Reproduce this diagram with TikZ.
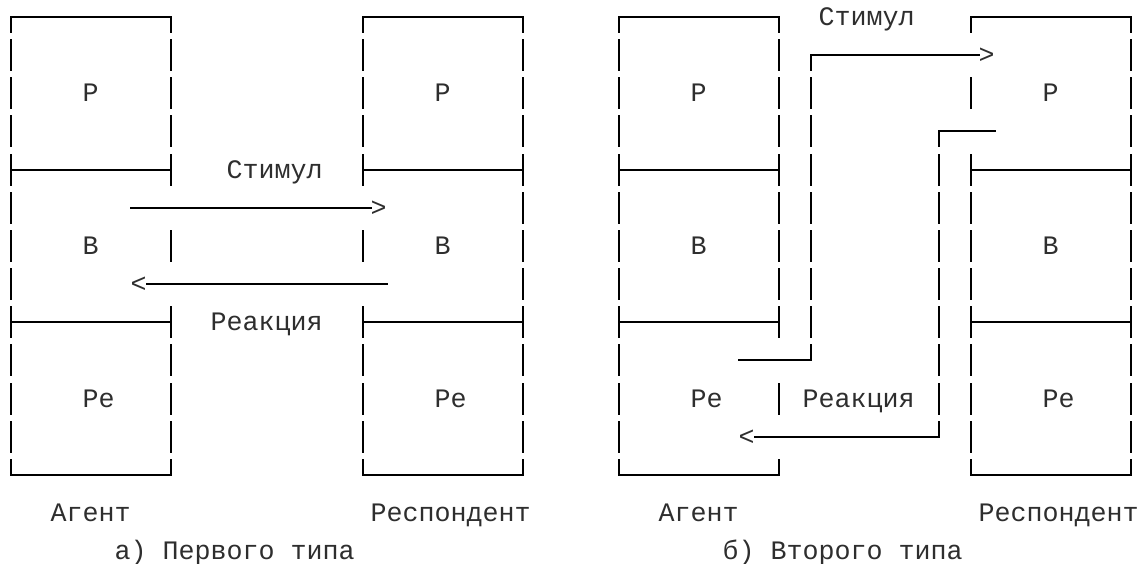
\documentclass[tikz,border=0pt]{standalone}
\usepackage{fontspec}
\newfontfamily\asciimono{Liberation Mono}
\newcommand\gx[1]{(10.7+16*(#1))}
\newcommand\gy[1]{(17+38.15*(#1))}
\begin{document}
\begin{tikzpicture}[x=1pt,y=-1pt,
  hl/.style={line width=2pt, line cap=rect},
  vseg/.style={line width=2pt, line cap=rect},
  vbar/.style={line width=2pt, line cap=rect, dash pattern=on 30pt off 8.15pt, dash phase=15pt},
  vbartop/.style={vbar, dash phase=0pt},
  lbl/.style={anchor=base west, inner sep=0pt, outer sep=0pt, font=\fontsize{26.667}{30}\selectfont\asciimono, text=black!82}]
\useasboundingbox (0,0) rectangle (1146,564);
\newcommand\lab[4]{\node[lbl] (#1) at ({\gx{#2}-8},{\gy{#3}+8.5}) {#4};}
% ---------- horizontal box lines ----------
\foreach \a/\b in {0/10,22/32,38/48,60/70}{
  \foreach \r in {0,4,8,12}{
    \draw[hl] ({\gx{\a}},{\gy{\r}}) -- ({\gx{\b}},{\gy{\r}});
  }
}
% ---------- outer vertical box lines ----------
\foreach \c in {0,32,38,70}{
  \draw[vbar] ({\gx{\c}},{\gy{0}}) -- ({\gx{\c}},{\gy{12}});
}
% inner sides of the two boxes of figure a
\foreach \c in {10,22}{
  \draw[vbar] ({\gx{\c}},{\gy{0}}) -- ({\gx{\c}},{\gy{4}+15});
  \draw[vseg] ({\gx{\c}},{\gy{6}-15}) -- ({\gx{\c}},{\gy{6}+15});
  \draw[vbartop] ({\gx{\c}},{\gy{8}-15}) -- ({\gx{\c}},{\gy{12}});
}
% inner side of agent box, figure b
\draw[vbar] ({\gx{48}},{\gy{0}}) -- ({\gx{48}},{\gy{8}+15});
\draw[vseg] ({\gx{48}},{\gy{10}-15}) -- ({\gx{48}},{\gy{10}+15});
\draw[vseg] ({\gx{48}},{\gy{12}-15}) -- ({\gx{48}},{\gy{12}});
% inner side of respondent box, figure b
\draw[vseg] ({\gx{60}},{\gy{0}}) -- ({\gx{60}},{\gy{0}+15});
\draw[vseg] ({\gx{60}},{\gy{2}-15}) -- ({\gx{60}},{\gy{2}+15});
\draw[vbartop] ({\gx{60}},{\gy{4}-15}) -- ({\gx{60}},{\gy{12}});
% ---------- labels, figure a ----------
\lab{aP}{5}{2}{Р}
\lab{rP}{27}{2}{Р}
\lab{stimA}{14}{4}{Стимул}
\lab{aB}{5}{6}{В}
\lab{rB}{27}{6}{В}
\lab{reacA}{13}{8}{Реакция}
\lab{aRe}{5}{10}{Ре}
\lab{rRe}{27}{10}{Ре}
\lab{agA}{3}{13}{Агент}
\lab{respA}{23}{13}{Респондент}
\lab{capA}{7}{14}{а) Первого типа}
\lab{gtA}{23}{5}{>}
\lab{ltA}{8}{7}{<}
% ---------- labels, figure b ----------
\lab{stimB}{51}{0}{Стимул}
\lab{bP}{43}{2}{Р}
\lab{bRP}{65}{2}{Р}
\lab{bB}{43}{6}{В}
\lab{bRB}{65}{6}{В}
\lab{bRe}{43}{10}{Ре}
\lab{reacB}{50}{10}{Реакция}
\lab{bRRe}{65}{10}{Ре}
\lab{agB}{41}{13}{Агент}
\lab{respB}{61}{13}{Респондент}
\lab{capB}{45}{14}{б) Второго типа}
\lab{gtB}{61}{1}{>}
\lab{ltB}{46}{11}{<}
% ---------- connectors, figure a ----------
\coordinate (sA) at ({\gx{8}-8},{\gy{5}});
\draw[hl] (sA) -- (gtA.west |- sA);
\coordinate (rA) at ({\gx{23}+8},{\gy{7}});
\draw[hl] (rA) -- (ltA.east |- rA);
% ---------- connectors, figure b ----------
\coordinate (sB0) at ({\gx{46}-8},{\gy{9}});
\coordinate (sB1) at ({\gx{50}},{\gy{9}});
\coordinate (sB2) at ({\gx{50}},{\gy{1}});
\draw[hl] (sB0) -- (sB1);
\draw[vbar] (sB2) -- (sB1);
\draw[hl] (sB2) -- (gtB.west |- sB2);
\coordinate (rB0) at ({\gx{61}+8},{\gy{3}});
\coordinate (rB1) at ({\gx{58}},{\gy{3}});
\coordinate (rB2) at ({\gx{58}},{\gy{11}});
\draw[hl] (rB0) -- (rB1);
\draw[vbar] (rB1) -- (rB2);
\draw[hl] (rB2) -- (ltB.east |- rB2);
\end{tikzpicture}
\end{document}
